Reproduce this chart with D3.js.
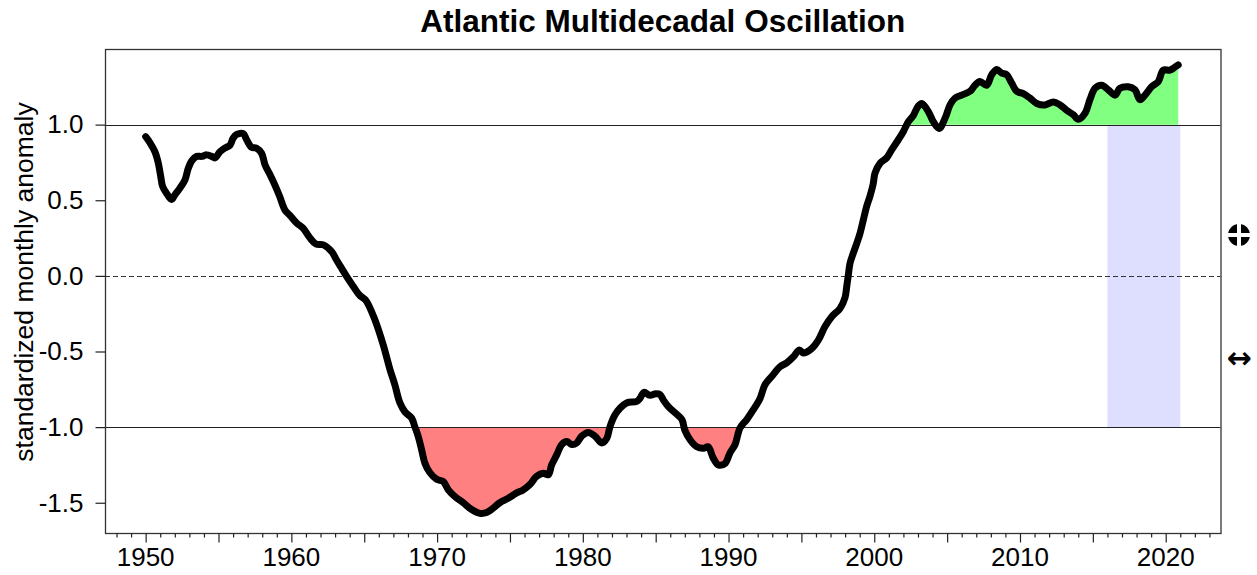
<!DOCTYPE html>
<html>
<head>
<meta charset="utf-8">
<script src="https://cdn.jsdelivr.net/npm/d3@7"></script>
<style>
  html, body { margin: 0; padding: 0; background: #fff; }
  #amo-chart svg { display: block; font-family: "Liberation Sans", Arial, sans-serif; }
  .tick-label { font-size: 26px; fill: #000; }
  .axis-title { font-size: 26.5px; fill: #000; }
  .chart-title { font-size: 31.5px; font-weight: bold; fill: #000; }
</style>
</head>
<body>
<div id="amo-chart"></div>
<script>
// data (decimal year, standardized anomaly)
const years = [
  1950.00, 1950.30, 1950.64, 1950.87, 1951.03, 1951.17, 1951.44, 1951.78, 1952.00, 1952.35,
  1952.70, 1952.92, 1953.16, 1953.50, 1953.84, 1954.19, 1954.53, 1954.76, 1955.10, 1955.44,
  1955.79, 1956.00, 1956.25, 1956.70, 1956.93, 1957.27, 1957.60, 1957.96, 1958.19, 1958.53,
  1958.87, 1959.20, 1959.56, 1959.90, 1960.36, 1960.80, 1961.28, 1961.70, 1962.20, 1962.77,
  1963.10, 1963.45, 1963.80, 1964.25, 1964.70, 1965.10, 1965.73, 1966.30, 1966.77, 1967.10,
  1967.45, 1967.80, 1968.25, 1968.48, 1968.70, 1968.94, 1969.17, 1969.50, 1969.97, 1970.42,
  1970.77, 1971.23, 1971.80, 1972.37, 1972.94, 1973.40, 1973.86, 1974.30, 1974.88, 1975.46,
  1975.90, 1976.37, 1976.83, 1977.29, 1977.63, 1977.86, 1978.20, 1978.55, 1978.90, 1979.24,
  1979.58, 1979.92, 1980.37, 1980.84, 1981.30, 1981.64, 1981.87, 1982.20, 1982.55, 1983.00,
  1983.70, 1983.92, 1984.20, 1984.60, 1985.00, 1985.30, 1985.52, 1985.87, 1986.33, 1986.80,
  1987.00, 1987.37, 1987.82, 1988.27, 1988.60, 1988.95, 1989.30, 1989.76, 1990.10, 1990.45,
  1990.79, 1991.25, 1991.70, 1992.16, 1992.50, 1992.96, 1993.54, 1993.99, 1994.45, 1994.86,
  1995.13, 1995.71, 1996.16, 1996.62, 1997.08, 1997.65, 1997.99, 1998.11, 1998.22, 1998.34,
  1998.56, 1998.80, 1999.02, 1999.25, 1999.48, 1999.70, 1999.93, 2000.05, 2000.40, 2000.85,
  2001.20, 2001.65, 2002.00, 2002.34, 2002.68, 2003.00, 2003.26, 2003.72, 2004.05, 2004.46,
  2004.85, 2005.20, 2005.54, 2006.00, 2006.57, 2006.91, 2007.25, 2007.71, 2008.06, 2008.40,
  2008.75, 2009.09, 2009.43, 2009.78, 2010.23, 2010.69, 2011.15, 2011.72, 2012.29, 2012.75,
  2013.20, 2013.66, 2014.00, 2014.46, 2014.80, 2015.15, 2015.60, 2016.06, 2016.52, 2016.86,
  2017.43, 2017.89, 2018.23, 2018.58, 2019.03, 2019.49, 2019.83, 2020.29, 2020.63, 2020.86
];

const amo = [
  0.92, 0.88, 0.82, 0.745, 0.66, 0.59, 0.545, 0.505, 0.535, 0.58,
  0.635, 0.71, 0.76, 0.79, 0.79, 0.80, 0.79, 0.78, 0.82, 0.845,
  0.865, 0.91, 0.935, 0.94, 0.90, 0.85, 0.845, 0.81, 0.735, 0.67,
  0.60, 0.525, 0.435, 0.40, 0.35, 0.315, 0.25, 0.21, 0.205, 0.16,
  0.105, 0.05, -0.005, -0.07, -0.13, -0.16, -0.29, -0.455, -0.62, -0.72,
  -0.84, -0.90, -0.94, -1.0, -1.06, -1.15, -1.24, -1.30, -1.345, -1.36,
  -1.415, -1.46, -1.50, -1.545, -1.57, -1.565, -1.535, -1.50, -1.47, -1.435,
  -1.415, -1.38, -1.325, -1.305, -1.315, -1.25, -1.185, -1.115, -1.095, -1.115,
  -1.105, -1.06, -1.035, -1.06, -1.105, -1.075, -0.995, -0.92, -0.875, -0.84,
  -0.83, -0.81, -0.77, -0.79, -0.78, -0.785, -0.82, -0.865, -0.905, -0.95,
  -1.02, -1.085, -1.13, -1.14, -1.13, -1.205, -1.25, -1.24, -1.17, -1.115,
  -1.005, -0.95, -0.885, -0.81, -0.72, -0.665, -0.60, -0.575, -0.535, -0.49,
  -0.51, -0.48, -0.425, -0.335, -0.27, -0.215, -0.145, -0.07, 0.005, 0.085,
  0.15, 0.215, 0.28, 0.37, 0.46, 0.525, 0.61, 0.68, 0.745, 0.78,
  0.835, 0.90, 0.955, 1.02, 1.06, 1.12, 1.14, 1.085, 1.02, 0.975,
  1.04, 1.13, 1.175, 1.195, 1.22, 1.26, 1.285, 1.26, 1.33, 1.365,
  1.34, 1.33, 1.275, 1.22, 1.205, 1.175, 1.14, 1.13, 1.15, 1.13,
  1.095, 1.065, 1.035, 1.075, 1.165, 1.24, 1.26, 1.23, 1.195, 1.24,
  1.25, 1.23, 1.165, 1.195, 1.25, 1.285, 1.36, 1.36, 1.38, 1.395
];

const yTicks = [-1.5, -1.0, -0.5, 0.0, 0.5, 1.0];
const xLabelYears = [1950, 1960, 1970, 1980, 1990, 2000, 2010, 2020];
const xTickRange = [1948, 2023];
const thresholds = [-1, 1];
const recentSpan = [2016, 2021];

const chartTitle = 'Atlantic Multidecadal Oscillation';
const yTitle = 'standardized monthly anomaly';

// constants
const containerSelector = '#amo-chart';
const totalWidth = 1257;
const totalHeight = 575;

let data,
    xScale,
    yScale,
    line,
    areaAbove,
    areaBelow,
    margins = {
      top: 49,
      right: 36.5,
      bottom: 42,
      left: 105
    };

let $svg,
    $g;

function init() {
  data = years.map((year, i) => ({ year, value: amo[i] }));
  constructChart();
}

function constructChart() {
  const width = totalWidth - margins.left - margins.right;
  const height = totalHeight - margins.top - margins.bottom;

  xScale = d3.scaleLinear()
    .domain([1947.21, 2023.76])
    .range([0, width]);

  yScale = d3.scaleLinear()
    .domain([-1.70, 1.50])
    .range([height, 0]);

  line = d3.line()
    .x(d => xScale(d.year))
    .y(d => yScale(d.value))
    .curve(d3.curveCatmullRom.alpha(0.5));

  areaAbove = d3.area()
    .x(d => xScale(d.year))
    .y0(yScale(thresholds[1]))
    .y1(d => yScale(Math.max(d.value, thresholds[1])));

  areaBelow = d3.area()
    .x(d => xScale(d.year))
    .y0(yScale(thresholds[0]))
    .y1(d => yScale(Math.min(d.value, thresholds[0])));

  $svg = d3.select(containerSelector).append('svg')
    .attr('width', totalWidth)
    .attr('height', totalHeight);

  $g = $svg.append('g')
    .attr('transform', `translate(${margins.left}, ${margins.top})`);

  // recent period band
  $g.append('rect')
    .attr('x', xScale(recentSpan[0]))
    .attr('width', xScale(recentSpan[1]) - xScale(recentSpan[0]))
    .attr('y', yScale(thresholds[1]))
    .attr('height', yScale(thresholds[0]) - yScale(thresholds[1]))
    .attr('fill', '#dedeff');

  $g.append('path')
    .datum(data)
    .attr('d', areaAbove)
    .attr('fill', '#80ff80');

  $g.append('path')
    .datum(data)
    .attr('d', areaBelow)
    .attr('fill', '#ff8080');

  // reference lines
  $g.selectAll('.threshold')
    .data(thresholds)
    .enter()
    .append('line')
    .classed('threshold', true)
    .attr('x1', 0)
    .attr('x2', width)
    .attr('y1', d => Math.round(yScale(d)) + 0.5)
    .attr('y2', d => Math.round(yScale(d)) + 0.5)
    .attr('stroke', '#222')
    .attr('stroke-width', 1);

  $g.append('line')
    .attr('x1', 0)
    .attr('x2', width)
    .attr('y1', Math.round(yScale(0)) + 0.5)
    .attr('y2', Math.round(yScale(0)) + 0.5)
    .attr('stroke', '#333')
    .attr('stroke-dasharray', '5,3');

  // the series
  $g.append('path')
    .datum(data)
    .attr('d', line)
    .attr('fill', 'none')
    .attr('stroke', '#000')
    .attr('stroke-width', 7)
    .attr('stroke-linejoin', 'round')
    .attr('stroke-linecap', 'round');

  // box
  $g.append('rect')
    .attr('x', 0.5)
    .attr('y', 0.5)
    .attr('width', width)
    .attr('height', height)
    .attr('fill', 'none')
    .attr('stroke', '#333')
    .attr('stroke-width', 1.3);

  // x axis: a tick per year, longer every 5 years
  const xTicks = d3.range(xTickRange[0], xTickRange[1] + 1);
  const xAxisMinor = d3.axisBottom(xScale)
    .tickValues(xTicks.filter(t => t % 5 !== 0))
    .tickSize(4)
    .tickFormat('');
  const xAxisMajor = d3.axisBottom(xScale)
    .tickValues(xTicks.filter(t => t % 5 === 0))
    .tickSize(9)
    .tickFormat('');

  [xAxisMinor, xAxisMajor].forEach(ax => {
    const $ax = $g.append('g')
      .attr('transform', `translate(0, ${height + 0.5})`)
      .call(ax);
    $ax.select('.domain').remove();
    $ax.selectAll('line').attr('stroke', '#222').attr('stroke-width', 1.2);
  });

  $g.selectAll('.x-label')
    .data(xLabelYears)
    .enter()
    .append('text')
    .classed('tick-label', true)
    .attr('x', d => xScale(d))
    .attr('y', height + 33)
    .attr('text-anchor', 'middle')
    .text(d => d);

  // y axis
  const yAxis = d3.axisLeft(yScale)
    .tickValues(yTicks)
    .tickSize(10)
    .tickPadding(12)
    .tickFormat(d => d.toFixed(1));

  const $yAxis = $g.append('g')
    .attr('transform', 'translate(0.5, 0)')
    .call(yAxis);
  $yAxis.select('.domain').remove();
  $yAxis.selectAll('line').attr('stroke', '#222').attr('stroke-width', 1.2);
  $yAxis.selectAll('text')
    .attr('class', 'tick-label');
  $yAxis.attr('font-family', null).attr('font-size', null);

  // titles
  $svg.append('text')
    .classed('chart-title', true)
    .attr('x', margins.left + width / 2)
    .attr('y', 32)
    .attr('text-anchor', 'middle')
    .text(chartTitle);

  $svg.append('text')
    .classed('axis-title', true)
    .attr('transform', `translate(33, ${margins.top + height / 2 - 9}) rotate(-90)`)
    .attr('text-anchor', 'middle')
    .text(yTitle);

  // the two little glyphs in the right margin
  const $knob = $svg.append('g')
    .attr('transform', 'translate(1239, 235)');
  $knob.append('circle').attr('r', 11).attr('fill', '#000');
  $knob.append('rect').attr('x', -2).attr('y', -11).attr('width', 4).attr('height', 22).attr('fill', '#fff');
  $knob.append('rect').attr('x', -11).attr('y', -2).attr('width', 22).attr('height', 4).attr('fill', '#fff');

  $svg.append('text')
    .attr('x', 1239)
    .attr('y', 368)
    .attr('text-anchor', 'middle')
    .attr('font-family', 'DejaVu Sans, sans-serif')
    .attr('font-weight', 'bold')
    .attr('font-size', 30)
    .text('\u2194');
}

init();
</script>
</body>
</html>
